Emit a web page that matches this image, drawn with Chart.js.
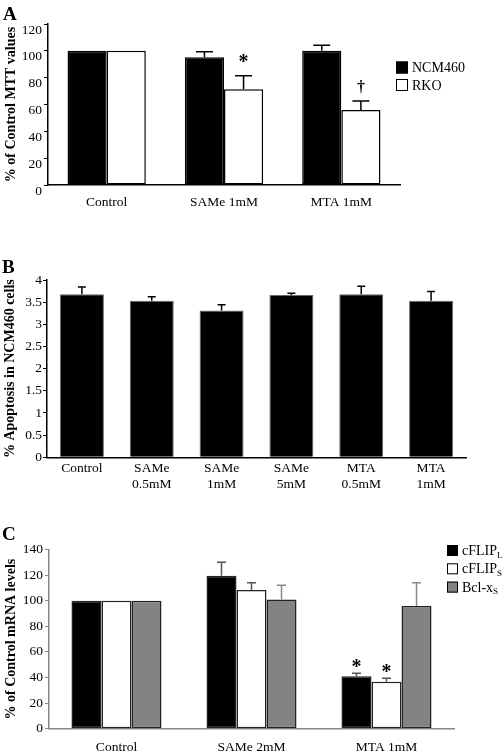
<!DOCTYPE html>
<html>
<head>
<meta charset="utf-8">
<script src="https://cdn.jsdelivr.net/npm/chart.js@4.4.1/dist/chart.umd.min.js"></script>
<style>
  html, body { margin: 0; padding: 0; background: #fff; }
  body { width: 504px; height: 754px; position: relative; overflow: hidden; }
  canvas { position: absolute; left: 0; }
</style>
</head>
<body>
<canvas id="chartA" width="504" height="215" style="top:0px"></canvas>
<canvas id="chartB" width="504" height="265" style="top:245px"></canvas>
<canvas id="chartC" width="504" height="239" style="top:515px"></canvas>
<script>
// Panel A: MTT viability
const mttCategories = ['Control', 'SAMe 1mM', 'MTA 1mM'];
const mttNcm460 = [100, 95.2, 100.1];
const mttNcm460Err = [0, 4.2, 4.0];
const mttRko = [100, 71.3, 55.9];
const mttRkoErr = [0, 10.2, 6.7];
const mttRkoMarks = ['', '*', '\u2020'];
const mttTicks = [0, 20, 40, 60, 80, 100, 120];

// Panel B: apoptosis in NCM460
const apoCategories = [['Control'], ['SAMe', '0.5mM'], ['SAMe', '1mM'], ['SAMe', '5mM'], ['MTA', '0.5mM'], ['MTA', '1mM']];
const apoValues = [3.68, 3.53, 3.31, 3.66, 3.68, 3.53];
const apoErr = [0.16, 0.09, 0.13, 0.04, 0.18, 0.21];
const apoTicks = [0, 0.5, 1, 1.5, 2, 2.5, 3, 3.5, 4];

// Panel C: mRNA levels
const mrnaCategories = ['Control', 'SAMe 2mM', 'MTA 1mM'];
const flipL = [100, 119.5, 41];
const flipLErr = [0, 10.5, 2.3];
const flipS = [100, 108.4, 36.7];
const flipSErr = [0, 5.6, 2.7];
const bclXs = [100, 101, 95.9];
const bclXsErr = [0, 11, 18.1];
const flipLMarks = ['', '', '*'];
const flipSMarks = ['', '', '*'];
const mrnaTicks = [0, 20, 40, 60, 80, 100, 120, 140];

const SERIF = '"Liberation Serif", "Times New Roman", Times, serif';

// error bars, significance marks, panel letter and legend
const extras = {
  id: 'extras',
  afterDatasetsDraw(chart, args, opts) {
    const ctx = chart.ctx;
    const y = chart.scales.y;
    ctx.save();
    chart.data.datasets.forEach((ds, di) => {
      const meta = chart.getDatasetMeta(di);
      meta.data.forEach((bar, i) => {
        const err = ds.errors ? ds.errors[i] : 0;
        const topY = y.getPixelForValue(ds.data[i] + (err || 0));
        if (err) {
          ctx.strokeStyle = ds.errorColor || '#000';
          ctx.lineWidth = opts.errWidth || 1.5;
          ctx.beginPath();
          ctx.moveTo(bar.x, bar.y);
          ctx.lineTo(bar.x, topY);
          ctx.moveTo(bar.x - opts.cap / 2, topY);
          ctx.lineTo(bar.x + opts.cap / 2, topY);
          ctx.stroke();
        }
        const mark = ds.marks ? ds.marks[i] : '';
        if (mark) {
          // center of the glyph sits `gap` px above the error bar
          const star = mark === '*';
          const size = star ? opts.starSize : opts.daggerSize;
          const cy = topY - (star ? opts.starGap : opts.daggerGap);
          ctx.fillStyle = '#000';
          ctx.font = 'bold ' + size + 'px ' + SERIF;
          ctx.textAlign = 'center';
          ctx.textBaseline = 'alphabetic';
          ctx.fillText(mark, bar.x, cy + size * (star ? 0.52 : 0.3));
        }
      });
    });

    // panel letter
    ctx.fillStyle = '#000';
    ctx.font = 'bold 19px ' + SERIF;
    ctx.textAlign = 'left';
    ctx.textBaseline = 'alphabetic';
    ctx.fillText(opts.letter, opts.letterX, opts.letterY);

    // legend
    if (opts.legend) {
      const L = opts.legend;
      chart.data.datasets.forEach((ds, di) => {
        const top = L.y + di * L.gap;
        ctx.fillStyle = ds.backgroundColor;
        ctx.fillRect(L.x, top, L.size, L.size);
        ctx.strokeStyle = '#000';
        ctx.lineWidth = 1;
        ctx.strokeRect(L.x + 0.5, top + 0.5, L.size - 1, L.size - 1);
        ctx.fillStyle = '#000';
        ctx.font = L.font;
        ctx.textBaseline = 'middle';
        ctx.textAlign = 'left';
        const tx = L.x + L.size + 4;
        const ty = top + L.size / 2 + 1;
        ctx.fillText(ds.legendText, tx, ty);
        if (ds.legendSub) {
          const w = ctx.measureText(ds.legendText).width;
          ctx.font = L.subFont;
          ctx.fillText(ds.legendSub, tx + w, ty + 4);
        }
      });
    }
    ctx.restore();
  }
};

function yScale(ticks, title, opt) {
  return {
    min: ticks[0],
    max: ticks[ticks.length - 1],
    afterBuildTicks: s => { s.ticks = ticks.map(v => ({ value: v })); },
    afterFit: s => { s.width = opt.left; },
    grid: { display: true, drawOnChartArea: false, drawTicks: true, tickLength: 4, color: opt.color, lineWidth: 1 },
    border: { display: true, color: opt.color, width: opt.axisWidth || 1 },
    ticks: { color: '#000', font: { family: SERIF, size: opt.tickSize }, padding: opt.tickPad,
      labelOffset: opt.labelOffset || 0, callback: v => String(v) },
    title: { display: true, text: title, color: '#000', font: { family: SERIF, size: 14, weight: 'bold' }, padding: { top: opt.titlePad, bottom: 0 } }
  };
}

function xScale(opt) {
  return {
    afterFit: s => { s.height = opt.height; },
    grid: { display: false, drawTicks: false },
    border: { display: true, color: opt.color, width: opt.axisWidth || 1 },
    ticks: { color: '#000', font: { family: SERIF, size: 13.5 }, padding: opt.pad, maxRotation: 0, autoSkip: false }
  };
}

function baseOptions(layout, scales, extraOpts) {
  return {
    responsive: false,
    animation: false,
    events: [],
    layout: { padding: layout },
    plugins: { legend: { display: false }, tooltip: { enabled: false }, extras: extraOpts },
    scales: scales
  };
}

// Panel A
new Chart(document.getElementById('chartA'), {
  type: 'bar',
  data: {
    labels: mttCategories,
    datasets: [
      { label: 'NCM460', legendText: 'NCM460', data: mttNcm460, errors: mttNcm460Err,
        backgroundColor: '#000', borderColor: '#000', borderWidth: 1.5, borderSkipped: false },
      { label: 'RKO', legendText: 'RKO', data: mttRko, errors: mttRkoErr, marks: mttRkoMarks,
        backgroundColor: '#fff', borderColor: '#000', borderWidth: 1.5, borderSkipped: false }
    ]
  },
  options: Object.assign(baseOptions(
    { top: 24, right: 104, left: 0, bottom: 0 },
    {
      x: xScale({ height: 30, pad: 9.4, color: '#000', axisWidth: 1.5 }),
      y: yScale(mttTicks, '% of Control MTT values', { left: 48, color: '#000', tickSize: 13.5, tickPad: 2, labelOffset: 6, titlePad: 3, axisWidth: 1.5 })
    },
    { letter: 'A', letterX: 3, letterY: 20, cap: 17, errWidth: 1.5, starSize: 20, daggerSize: 16, starGap: 18, daggerGap: 14,
      legend: { x: 396, y: 61.5, gap: 17.5, size: 12, font: '14px ' + SERIF } }
  ), { datasets: { bar: { categoryPercentage: 0.667, barPercentage: 1 } } }),
  plugins: [extras]
});

// Panel B
new Chart(document.getElementById('chartB'), {
  type: 'bar',
  data: {
    labels: apoCategories,
    datasets: [
      { label: '% Apoptosis', data: apoValues, errors: apoErr,
        backgroundColor: '#000', borderColor: '#666', borderWidth: 1, borderSkipped: 'bottom' }
    ]
  },
  options: Object.assign(baseOptions(
    { top: 35, right: 38, left: 0, bottom: 0 },
    {
      x: xScale({ height: 52.7, pad: 3, color: '#000', axisWidth: 1.5 }),
      y: yScale(apoTicks, '% Apoptosis in NCM460 cells', { left: 47, color: '#000', tickSize: 13.5, tickPad: 1, titlePad: 2, axisWidth: 1.5 })
    },
    { letter: 'B', letterX: 2, letterY: 28, cap: 8, errWidth: 1.5, starSize: 20, daggerSize: 16, starGap: 12, daggerGap: 12 }
  ), { datasets: { bar: { categoryPercentage: 1, barPercentage: 0.63 } } }),
  plugins: [extras]
});

// Panel C
new Chart(document.getElementById('chartC'), {
  type: 'bar',
  data: {
    labels: mrnaCategories,
    datasets: [
      { label: 'cFLIP_L', legendText: 'cFLIP', legendSub: 'L', data: flipL, errors: flipLErr, marks: flipLMarks,
        backgroundColor: '#000', borderColor: '#222', borderWidth: 1.5, borderSkipped: false, errorColor: '#555' },
      { label: 'cFLIP_S', legendText: 'cFLIP', legendSub: 'S', data: flipS, errors: flipSErr, marks: flipSMarks,
        backgroundColor: '#fff', borderColor: '#222', borderWidth: 1.5, borderSkipped: false, errorColor: '#555' },
      { label: 'Bcl-x_S', legendText: 'Bcl-x', legendSub: 'S', data: bclXs, errors: bclXsErr,
        backgroundColor: '#838383', borderColor: '#222', borderWidth: 1.5, borderSkipped: false, errorColor: '#888' }
    ]
  },
  options: Object.assign(baseOptions(
    { top: 34.5, right: 50, left: 0, bottom: 0 },
    {
      x: xScale({ height: 25.3, pad: 10.5, color: '#888', axisWidth: 1.5 }),
      y: yScale(mrnaTicks, '% of Control mRNA levels', { left: 49, color: '#888', tickSize: 13.5, tickPad: 2, titlePad: 3, axisWidth: 1.5 })
    },
    { letter: 'C', letterX: 2, letterY: 25, cap: 9, errWidth: 1.5, starSize: 20, daggerSize: 16, starGap: 11, daggerGap: 11,
      legend: { x: 447, y: 30, gap: 18.3, size: 11, font: '14px ' + SERIF, subFont: '9px ' + SERIF } }
  ), { datasets: { bar: { categoryPercentage: 0.667, barPercentage: 1 } } }),
  plugins: [extras]
});
</script>
</body>
</html>
